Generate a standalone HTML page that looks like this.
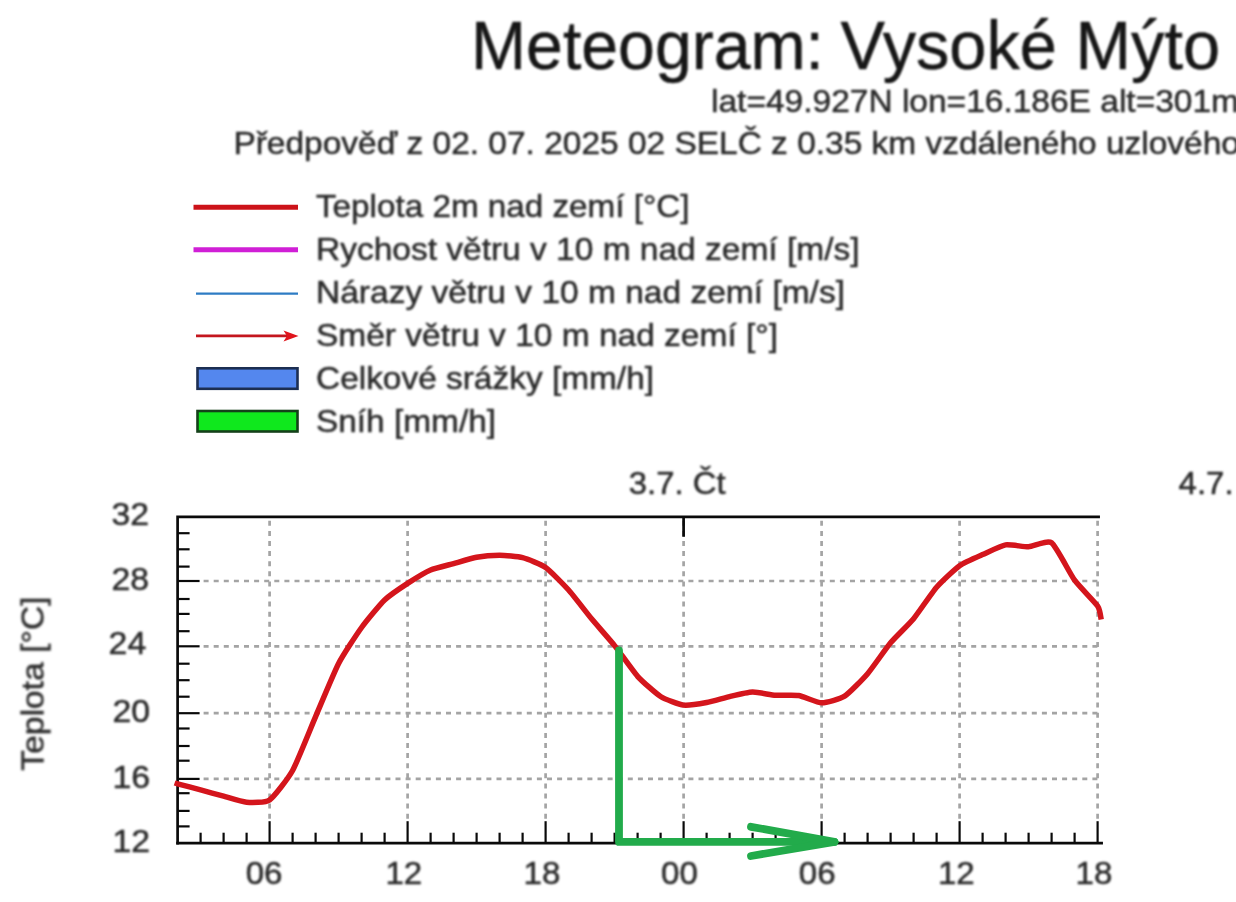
<!DOCTYPE html>
<html lang="cs">
<head>
<meta charset="utf-8">
<title>Meteogram: Vysoké Mýto</title>
<style>
html,body{margin:0;padding:0;background:#fff;}
body{width:1236px;height:902px;overflow:hidden;position:relative;}
svg{display:block;position:absolute;left:0;top:0;}
text{font-family:"Liberation Sans",sans-serif;stroke:#2a2a2a;stroke-width:0.5px;paint-order:stroke;}
.soft text{filter:blur(1.0px);}
.ln{filter:blur(0.75px);}
</style>
</head>
<body>
<svg width="1236" height="902" viewBox="0 0 1236 902">
<rect width="1236" height="902" fill="#ffffff"/>
<g class="soft">

<text x="471" y="69.2" font-size="68.6" text-anchor="start" fill="#161616" textLength="353" lengthAdjust="spacingAndGlyphs">Meteogram:</text>
<text x="840.6" y="69.2" font-size="68.6" text-anchor="start" fill="#161616" textLength="379.5" lengthAdjust="spacingAndGlyphs">Vysoké Mýto</text>
<text x="711" y="111.7" font-size="31.5" text-anchor="start" fill="#2a2a2a" textLength="528" lengthAdjust="spacingAndGlyphs">lat=49.927N lon=16.186E alt=301m</text>
<text x="233.4" y="154.3" font-size="31.5" text-anchor="start" fill="#2a2a2a" textLength="1006.5" lengthAdjust="spacingAndGlyphs">Předpověď z 02. 07. 2025 02 SELČ z 0.35 km vzdáleného uzlového</text>
<g id="legend">
<g class="ln">
<line x1="193.5" y1="207.2" x2="298" y2="207.2" stroke="#cc1219" stroke-width="5"/>
<line x1="193.5" y1="249.7" x2="298" y2="249.7" stroke="#d01fd6" stroke-width="5"/>
<line x1="196" y1="293.7" x2="298" y2="293.7" stroke="#2e7cc4" stroke-width="2.3"/>
<line x1="196" y1="335.9" x2="290" y2="335.9" stroke="#c4161e" stroke-width="2.6"/>
<path d="M283.5 330.4 L298.5 335.9 L283.5 341.4 L287 335.9 Z" fill="#e0141c"/>
<rect x="197.5" y="368.3" width="100" height="20.5" fill="#5487ee" stroke="#1c2e52" stroke-width="2.6"/>
<rect x="197.5" y="411" width="100" height="20.5" fill="#0fe81d" stroke="#14401a" stroke-width="2.6"/>
</g>
<text x="316" y="217.4" font-size="32" text-anchor="start" fill="#2a2a2a" textLength="373.5" lengthAdjust="spacingAndGlyphs">Teplota 2m nad zemí [°C]</text>
<text x="316" y="260" font-size="32" text-anchor="start" fill="#2a2a2a" textLength="543.5" lengthAdjust="spacingAndGlyphs">Rychost větru v 10 m nad zemí [m/s]</text>
<text x="316" y="303" font-size="32" text-anchor="start" fill="#2a2a2a" textLength="529" lengthAdjust="spacingAndGlyphs">Nárazy větru v 10 m nad zemí [m/s]</text>
<text x="316" y="346" font-size="32" text-anchor="start" fill="#2a2a2a" textLength="462" lengthAdjust="spacingAndGlyphs">Směr větru v 10 m nad zemí [°]</text>
<text x="316" y="388.5" font-size="32" text-anchor="start" fill="#2a2a2a" textLength="338" lengthAdjust="spacingAndGlyphs">Celkové srážky [mm/h]</text>
<text x="316" y="431.5" font-size="32" text-anchor="start" fill="#2a2a2a" textLength="180" lengthAdjust="spacingAndGlyphs">Sníh [mm/h]</text>
</g>
<g id="chart">
<g class="ln">
<line x1="203.6" y1="778.9" x2="1097.6" y2="778.9" stroke="#a4a4a4" stroke-width="2.7" stroke-dasharray="5 5.1"/>
<line x1="203.6" y1="713.2" x2="1097.6" y2="713.2" stroke="#a4a4a4" stroke-width="2.7" stroke-dasharray="5 5.1"/>
<line x1="203.6" y1="646.3" x2="1097.6" y2="646.3" stroke="#a4a4a4" stroke-width="2.7" stroke-dasharray="5 5.1"/>
<line x1="203.6" y1="581.0" x2="1097.6" y2="581.0" stroke="#a4a4a4" stroke-width="2.7" stroke-dasharray="5 5.1"/>
<line x1="269.6" y1="520.8" x2="269.6" y2="821.2" stroke="#a4a4a4" stroke-width="2.7" stroke-dasharray="5 5.1"/>
<line x1="407.6" y1="520.8" x2="407.6" y2="821.2" stroke="#a4a4a4" stroke-width="2.7" stroke-dasharray="5 5.1"/>
<line x1="545.6" y1="520.8" x2="545.6" y2="821.2" stroke="#a4a4a4" stroke-width="2.7" stroke-dasharray="5 5.1"/>
<line x1="683.6" y1="520.8" x2="683.6" y2="821.2" stroke="#a4a4a4" stroke-width="2.7" stroke-dasharray="5 5.1"/>
<line x1="821.6" y1="520.8" x2="821.6" y2="821.2" stroke="#a4a4a4" stroke-width="2.7" stroke-dasharray="5 5.1"/>
<line x1="959.6" y1="520.8" x2="959.6" y2="821.2" stroke="#a4a4a4" stroke-width="2.7" stroke-dasharray="5 5.1"/>
<line x1="1097.6" y1="520.8" x2="1097.6" y2="821.2" stroke="#a4a4a4" stroke-width="2.7" stroke-dasharray="5 5.1"/>
<path d="M177.6 843.2 L177.6 516.8 L1098.6 516.8" fill="none" stroke="#0a0a0a" stroke-width="2.7" stroke-linecap="square"/>
<line x1="177.6" y1="843.2" x2="1101.6" y2="843.2" stroke="#0a0a0a" stroke-width="2.7" stroke-linecap="square"/>
<line x1="177.6" y1="826.4" x2="189.6" y2="826.4" stroke="#0a0a0a" stroke-width="2.2"/>
<line x1="177.6" y1="810.9" x2="189.6" y2="810.9" stroke="#0a0a0a" stroke-width="2.2"/>
<line x1="177.6" y1="793.2" x2="189.6" y2="793.2" stroke="#0a0a0a" stroke-width="2.2"/>
<line x1="177.6" y1="778.9" x2="199.6" y2="778.9" stroke="#0a0a0a" stroke-width="2.2"/>
<line x1="177.6" y1="760.7" x2="189.6" y2="760.7" stroke="#0a0a0a" stroke-width="2.2"/>
<line x1="177.6" y1="746.0" x2="189.6" y2="746.0" stroke="#0a0a0a" stroke-width="2.2"/>
<line x1="177.6" y1="728.5" x2="189.6" y2="728.5" stroke="#0a0a0a" stroke-width="2.2"/>
<line x1="177.6" y1="713.2" x2="199.6" y2="713.2" stroke="#0a0a0a" stroke-width="2.2"/>
<line x1="177.6" y1="696.7" x2="189.6" y2="696.7" stroke="#0a0a0a" stroke-width="2.2"/>
<line x1="177.6" y1="680.2" x2="189.6" y2="680.2" stroke="#0a0a0a" stroke-width="2.2"/>
<line x1="177.6" y1="663.7" x2="189.6" y2="663.7" stroke="#0a0a0a" stroke-width="2.2"/>
<line x1="177.6" y1="646.3" x2="199.6" y2="646.3" stroke="#0a0a0a" stroke-width="2.2"/>
<line x1="177.6" y1="631.2" x2="189.6" y2="631.2" stroke="#0a0a0a" stroke-width="2.2"/>
<line x1="177.6" y1="613.9" x2="189.6" y2="613.9" stroke="#0a0a0a" stroke-width="2.2"/>
<line x1="177.6" y1="599.0" x2="189.6" y2="599.0" stroke="#0a0a0a" stroke-width="2.2"/>
<line x1="177.6" y1="581.0" x2="199.6" y2="581.0" stroke="#0a0a0a" stroke-width="2.2"/>
<line x1="177.6" y1="566.6" x2="189.6" y2="566.6" stroke="#0a0a0a" stroke-width="2.2"/>
<line x1="177.6" y1="549.3" x2="189.6" y2="549.3" stroke="#0a0a0a" stroke-width="2.2"/>
<line x1="177.6" y1="533.2" x2="189.6" y2="533.2" stroke="#0a0a0a" stroke-width="2.2"/>
<line x1="200.6" y1="843.2" x2="200.6" y2="832.7" stroke="#0a0a0a" stroke-width="2.2"/>
<line x1="223.6" y1="843.2" x2="223.6" y2="832.7" stroke="#0a0a0a" stroke-width="2.2"/>
<line x1="246.6" y1="843.2" x2="246.6" y2="832.7" stroke="#0a0a0a" stroke-width="2.2"/>
<line x1="269.6" y1="843.2" x2="269.6" y2="821.2" stroke="#0a0a0a" stroke-width="2.2"/>
<line x1="292.6" y1="843.2" x2="292.6" y2="832.7" stroke="#0a0a0a" stroke-width="2.2"/>
<line x1="315.6" y1="843.2" x2="315.6" y2="832.7" stroke="#0a0a0a" stroke-width="2.2"/>
<line x1="338.6" y1="843.2" x2="338.6" y2="832.7" stroke="#0a0a0a" stroke-width="2.2"/>
<line x1="361.6" y1="843.2" x2="361.6" y2="832.7" stroke="#0a0a0a" stroke-width="2.2"/>
<line x1="384.6" y1="843.2" x2="384.6" y2="832.7" stroke="#0a0a0a" stroke-width="2.2"/>
<line x1="407.6" y1="843.2" x2="407.6" y2="821.2" stroke="#0a0a0a" stroke-width="2.2"/>
<line x1="430.6" y1="843.2" x2="430.6" y2="832.7" stroke="#0a0a0a" stroke-width="2.2"/>
<line x1="453.6" y1="843.2" x2="453.6" y2="832.7" stroke="#0a0a0a" stroke-width="2.2"/>
<line x1="476.6" y1="843.2" x2="476.6" y2="832.7" stroke="#0a0a0a" stroke-width="2.2"/>
<line x1="499.6" y1="843.2" x2="499.6" y2="832.7" stroke="#0a0a0a" stroke-width="2.2"/>
<line x1="522.6" y1="843.2" x2="522.6" y2="832.7" stroke="#0a0a0a" stroke-width="2.2"/>
<line x1="545.6" y1="843.2" x2="545.6" y2="821.2" stroke="#0a0a0a" stroke-width="2.2"/>
<line x1="568.6" y1="843.2" x2="568.6" y2="832.7" stroke="#0a0a0a" stroke-width="2.2"/>
<line x1="591.6" y1="843.2" x2="591.6" y2="832.7" stroke="#0a0a0a" stroke-width="2.2"/>
<line x1="614.6" y1="843.2" x2="614.6" y2="832.7" stroke="#0a0a0a" stroke-width="2.2"/>
<line x1="637.6" y1="843.2" x2="637.6" y2="832.7" stroke="#0a0a0a" stroke-width="2.2"/>
<line x1="660.6" y1="843.2" x2="660.6" y2="832.7" stroke="#0a0a0a" stroke-width="2.2"/>
<line x1="683.6" y1="843.2" x2="683.6" y2="821.2" stroke="#0a0a0a" stroke-width="2.2"/>
<line x1="706.6" y1="843.2" x2="706.6" y2="832.7" stroke="#0a0a0a" stroke-width="2.2"/>
<line x1="729.6" y1="843.2" x2="729.6" y2="832.7" stroke="#0a0a0a" stroke-width="2.2"/>
<line x1="752.6" y1="843.2" x2="752.6" y2="832.7" stroke="#0a0a0a" stroke-width="2.2"/>
<line x1="775.6" y1="843.2" x2="775.6" y2="832.7" stroke="#0a0a0a" stroke-width="2.2"/>
<line x1="798.6" y1="843.2" x2="798.6" y2="832.7" stroke="#0a0a0a" stroke-width="2.2"/>
<line x1="821.6" y1="843.2" x2="821.6" y2="821.2" stroke="#0a0a0a" stroke-width="2.2"/>
<line x1="844.6" y1="843.2" x2="844.6" y2="832.7" stroke="#0a0a0a" stroke-width="2.2"/>
<line x1="867.6" y1="843.2" x2="867.6" y2="832.7" stroke="#0a0a0a" stroke-width="2.2"/>
<line x1="890.6" y1="843.2" x2="890.6" y2="832.7" stroke="#0a0a0a" stroke-width="2.2"/>
<line x1="913.6" y1="843.2" x2="913.6" y2="832.7" stroke="#0a0a0a" stroke-width="2.2"/>
<line x1="936.6" y1="843.2" x2="936.6" y2="832.7" stroke="#0a0a0a" stroke-width="2.2"/>
<line x1="959.6" y1="843.2" x2="959.6" y2="821.2" stroke="#0a0a0a" stroke-width="2.2"/>
<line x1="982.6" y1="843.2" x2="982.6" y2="832.7" stroke="#0a0a0a" stroke-width="2.2"/>
<line x1="1005.6" y1="843.2" x2="1005.6" y2="832.7" stroke="#0a0a0a" stroke-width="2.2"/>
<line x1="1028.6" y1="843.2" x2="1028.6" y2="832.7" stroke="#0a0a0a" stroke-width="2.2"/>
<line x1="1051.6" y1="843.2" x2="1051.6" y2="832.7" stroke="#0a0a0a" stroke-width="2.2"/>
<line x1="1074.6" y1="843.2" x2="1074.6" y2="832.7" stroke="#0a0a0a" stroke-width="2.2"/>
<line x1="1097.6" y1="843.2" x2="1097.6" y2="821.2" stroke="#0a0a0a" stroke-width="2.2"/>
<line x1="683.6" y1="516.8" x2="683.6" y2="536.8" stroke="#0a0a0a" stroke-width="2.7"/>
<path d="M174.6 783.0 C174.9 783.1 175.2 783.2 177.6 783.8 C180.0 784.4 196.3 788.7 200.6 789.9 C204.9 791.1 219.3 795.0 223.6 796.2 C227.9 797.4 242.3 802.0 246.6 802.3 C250.9 802.6 265.3 802.9 269.6 799.9 C273.9 796.9 288.3 778.3 292.6 770.5 C296.9 762.7 311.3 726.6 315.6 716.6 C319.9 706.6 334.3 671.8 338.6 663.5 C342.9 655.2 357.3 633.4 361.6 627.5 C365.9 621.6 380.3 604.1 384.6 600.0 C388.9 595.9 403.3 586.2 407.6 583.4 C411.9 580.6 426.3 571.8 430.6 570.0 C434.9 568.2 449.3 564.8 453.6 563.6 C457.9 562.4 472.3 558.1 476.6 557.3 C480.9 556.5 495.3 555.3 499.6 555.3 C503.9 555.3 518.3 556.6 522.6 557.7 C526.9 558.8 541.3 564.5 545.6 567.5 C549.9 570.5 564.3 585.2 568.6 590.0 C572.9 594.8 587.3 613.6 591.6 618.8 C595.9 624.0 610.3 640.2 614.6 645.6 C618.9 651.0 633.3 671.5 637.6 676.3 C641.9 681.1 656.3 693.8 660.6 696.5 C664.9 699.2 679.3 704.5 683.6 705.1 C687.9 705.7 702.3 703.3 706.6 702.5 C710.9 701.7 725.3 697.6 729.6 696.6 C733.9 695.6 748.3 692.2 752.6 692.1 C756.9 692.0 771.3 695.0 775.6 695.3 C779.9 695.6 794.3 694.8 798.6 695.5 C802.9 696.2 817.3 702.7 821.6 702.8 C825.9 702.9 840.3 698.9 844.6 696.2 C848.9 693.5 863.3 678.7 867.6 673.7 C871.9 668.7 886.3 647.9 890.6 642.8 C894.9 637.7 909.3 623.9 913.6 618.7 C917.9 613.5 932.3 592.1 936.6 587.2 C940.9 582.3 955.3 568.7 959.6 565.7 C963.9 562.7 978.3 556.5 982.6 554.6 C986.9 552.7 1001.3 545.6 1005.6 544.9 C1009.9 544.2 1024.3 547.0 1028.6 546.8 C1032.9 546.6 1047.3 539.7 1051.6 542.8 C1055.9 545.9 1070.3 574.3 1074.6 580.2 C1078.9 586.1 1095.1 602.3 1097.6 606.0 C1100.1 609.7 1100.9 618.2 1101.2 619.5" fill="none" stroke="#d4151c" stroke-width="5.5" stroke-linejoin="round" stroke-linecap="butt"/>
</g>
<text x="149.0" y="525.0" font-size="31" text-anchor="end" fill="#2a2a2a" textLength="37.6" lengthAdjust="spacingAndGlyphs">32</text>
<text x="149.0" y="589.6" font-size="31" text-anchor="end" fill="#2a2a2a" textLength="37.6" lengthAdjust="spacingAndGlyphs">28</text>
<text x="146.2" y="654.2" font-size="31" text-anchor="end" fill="#2a2a2a" textLength="37.6" lengthAdjust="spacingAndGlyphs">24</text>
<text x="150.0" y="722.0" font-size="31" text-anchor="end" fill="#2a2a2a" textLength="37.6" lengthAdjust="spacingAndGlyphs">20</text>
<text x="150.0" y="787.6" font-size="31" text-anchor="end" fill="#2a2a2a" textLength="37.6" lengthAdjust="spacingAndGlyphs">16</text>
<text x="150.0" y="852.2" font-size="31" text-anchor="end" fill="#2a2a2a" textLength="37.6" lengthAdjust="spacingAndGlyphs">12</text>
<text x="264.1" y="884.3" font-size="31" text-anchor="middle" fill="#2a2a2a" textLength="36.8" lengthAdjust="spacingAndGlyphs">06</text>
<text x="403.8" y="884.3" font-size="31" text-anchor="middle" fill="#2a2a2a" textLength="36.8" lengthAdjust="spacingAndGlyphs">12</text>
<text x="542.0" y="884.3" font-size="31" text-anchor="middle" fill="#2a2a2a" textLength="36.8" lengthAdjust="spacingAndGlyphs">18</text>
<text x="679.5" y="884.3" font-size="31" text-anchor="middle" fill="#2a2a2a" textLength="36.8" lengthAdjust="spacingAndGlyphs">00</text>
<text x="817.2" y="884.3" font-size="31" text-anchor="middle" fill="#2a2a2a" textLength="36.8" lengthAdjust="spacingAndGlyphs">06</text>
<text x="956.3" y="884.3" font-size="31" text-anchor="middle" fill="#2a2a2a" textLength="36.8" lengthAdjust="spacingAndGlyphs">12</text>
<text x="1094.0" y="884.3" font-size="31" text-anchor="middle" fill="#2a2a2a" textLength="36.8" lengthAdjust="spacingAndGlyphs">18</text>
<text x="628.8" y="493.8" font-size="31.5" text-anchor="start" fill="#2a2a2a" textLength="96.8" lengthAdjust="spacingAndGlyphs">3.7. Čt</text>
<text x="1178.6" y="493.8" font-size="31.5" text-anchor="start" fill="#2a2a2a" textLength="55" lengthAdjust="spacingAndGlyphs">4.7.</text>
<text transform="translate(43.5 770.6) rotate(-90)" font-size="32" fill="#2a2a2a" textLength="174" lengthAdjust="spacingAndGlyphs">Teplota [°C]</text>
</g>
</g>
<g id="annotation" fill="none" stroke="#22ab4b" stroke-width="7.8" stroke-linecap="round" stroke-linejoin="round">
<path d="M619 650.5 L619 841.9 L834.4 841.9"/>
<path d="M751 826.8 L834.4 841.9 L751 856.0"/>
<path d="M833.4 838.3 L839.6 841.9 L833.4 845.5 Z" fill="#22ab4b" stroke="none"/>
</g>
</svg>
</body>
</html>
